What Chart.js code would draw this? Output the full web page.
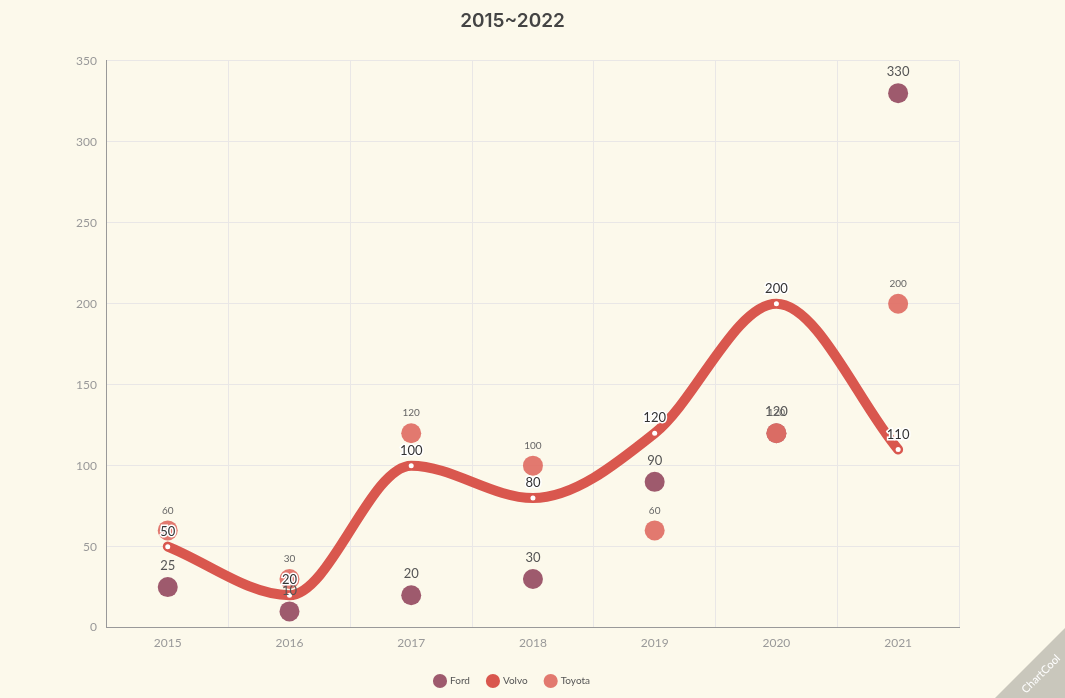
<!DOCTYPE html>
<html>
<head>
<meta charset="utf-8">
<script src="https://cdn.jsdelivr.net/npm/chart.js@4/dist/chart.umd.min.js"></script>
<style>
  html, body { margin: 0; padding: 0; background: #fcf9eb; }
  #wrap { width: 1065px; height: 698px; position: relative; }
</style>
</head>
<body>
<div id="wrap"><canvas id="myChart"></canvas></div>
<script>
var years = ['2015', '2016', '2017', '2018', '2019', '2020', '2021'];
var ford = [25, 10, 20, 30, 90, 120, 330];
var volvo = [50, 20, 100, 80, 120, 200, 110];
var toyota = [60, 30, 120, 100, 60, 120, 200];
var yTicks = [0, 50, 100, 150, 200, 250, 300, 350];

// draws the value above each point
var valueLabels = {
    id: 'valueLabels',
    afterDatasetsDraw: function(chart) {
        var ctx = chart.ctx;
        chart.data.datasets.forEach(function(ds, i) {
            var meta = chart.getDatasetMeta(i);
            if (meta.hidden) return;
            var lab = ds.labelStyle;
            meta.data.forEach(function(pt, j) {
                ctx.save();
                ctx.font = lab.size + 'px Lato, "Open Sans", sans-serif';
                ctx.textAlign = 'center';
                ctx.textBaseline = 'middle';
                var y = pt.y - lab.offset;
                if (lab.stroke) {
                    ctx.lineWidth = 3;
                    ctx.strokeStyle = '#ffffff';
                    ctx.strokeText(ds.data[j], pt.x, y);
                }
                ctx.fillStyle = lab.color;
                ctx.fillText(ds.data[j], pt.x, y);
                ctx.restore();
            });
        });
    }
};

var corner = {
    id: 'corner',
    beforeDraw: function(chart) {
        var ctx = chart.ctx;
        ctx.save();
        ctx.fillStyle = '#fcf9eb';
        ctx.fillRect(0, 0, chart.width, chart.height);
        ctx.restore();
    },
    afterDraw: function(chart) {
        var ctx = chart.ctx, w = chart.width, h = chart.height;
        ctx.save();
        ctx.fillStyle = '#c9c7bc';
        ctx.beginPath();
        ctx.moveTo(w, h - 70);
        ctx.lineTo(w, h);
        ctx.lineTo(w - 70, h);
        ctx.closePath();
        ctx.fill();
        ctx.translate(w - 24, h - 24);
        ctx.rotate(-Math.PI / 4);
        ctx.fillStyle = '#ffffff';
        ctx.font = '11px Lato, sans-serif';
        ctx.textAlign = 'center';
        ctx.textBaseline = 'middle';
        ctx.fillText('ChartCool', 0, 0);
        ctx.restore();
    }
};

var ctx = document.getElementById('myChart').getContext('2d');
var myChart = new Chart(ctx, {
    type: 'line',
    data: {
        labels: years,
        datasets: [{
            label: 'Ford',
            data: ford,
            showLine: false,
            backgroundColor: '#9e5a6d',
            borderColor: '#9e5a6d',
            pointRadius: 10,
            pointHoverRadius: 10,
            pointBorderWidth: 0,
            order: 2,
            labelStyle: { size: 13, color: '#555', offset: 21, stroke: false }
        },
        {
            label: 'Volvo',
            data: volvo,
            cubicInterpolationMode: 'monotone',
            borderWidth: 10,
            borderCapStyle: 'round',
            borderColor: '#d9574e',
            backgroundColor: '#d9574e',
            pointBackgroundColor: '#ffffff',
            pointBorderWidth: 0,
            pointRadius: 2.5,
            order: 1,
            labelStyle: { size: 13, color: '#333', offset: 15, stroke: true }
        },
        {
            label: 'Toyota',
            data: toyota,
            showLine: false,
            backgroundColor: 'rgba(223,110,100,0.92)',
            borderColor: 'rgba(223,110,100,0.92)',
            pointRadius: 10,
            pointHoverRadius: 10,
            pointBorderWidth: 0,
            order: 0,
            labelStyle: { size: 10, color: '#666', offset: 20, stroke: false }
        }]
    },
    options: {
        responsive: true,
        maintainAspectRatio: false,
        animation: false,
        layout: { padding: { left: 66, right: 106, top: 4, bottom: 2 } },
        plugins: {
            title: {
                display: true,
                text: '2015~2022',
                color: '#444',
                font: { size: 19, weight: '600', family: 'Inter, Lato, sans-serif' },
                padding: { top: 6, bottom: 28 }
            },
            legend: {
                position: 'bottom',
                labels: {
                    usePointStyle: true,
                    pointStyle: 'circle',
                    boxWidth: 14,
                    boxHeight: 14,
                    padding: 18,
                    color: '#555',
                    font: { size: 10, family: 'Lato, sans-serif' },
                    sort: function(a, b) { return a.datasetIndex - b.datasetIndex; },
                    generateLabels: function(chart) {
                        var items = Chart.defaults.plugins.legend.labels.generateLabels(chart);
                        items.forEach(function(it) {
                            var ds = chart.data.datasets[it.datasetIndex];
                            it.fillStyle = ds.borderColor;
                            it.strokeStyle = ds.borderColor;
                            it.lineWidth = 0;
                        });
                        return items;
                    }
                }
            },
            tooltip: { enabled: false }
        },
        scales: {
            x: {
                offset: true,
                grid: { color: '#e9e7e6', offset: true, drawTicks: false },
                border: { color: '#999' },
                ticks: { color: '#999', padding: 8, font: { size: 12, family: 'Lato, sans-serif' } }
            },
            y: {
                min: 0,
                max: 350,
                afterBuildTicks: function(axis) {
                    axis.ticks = yTicks.map(function(v) { return { value: v }; });
                },
                grid: { color: '#e9e7e6', drawTicks: false },
                border: { color: '#999' },
                ticks: { color: '#999', padding: 10, font: { size: 12, family: 'Lato, sans-serif' } }
            }
        }
    },
    plugins: [valueLabels, corner]
});
</script>
</body>
</html>
